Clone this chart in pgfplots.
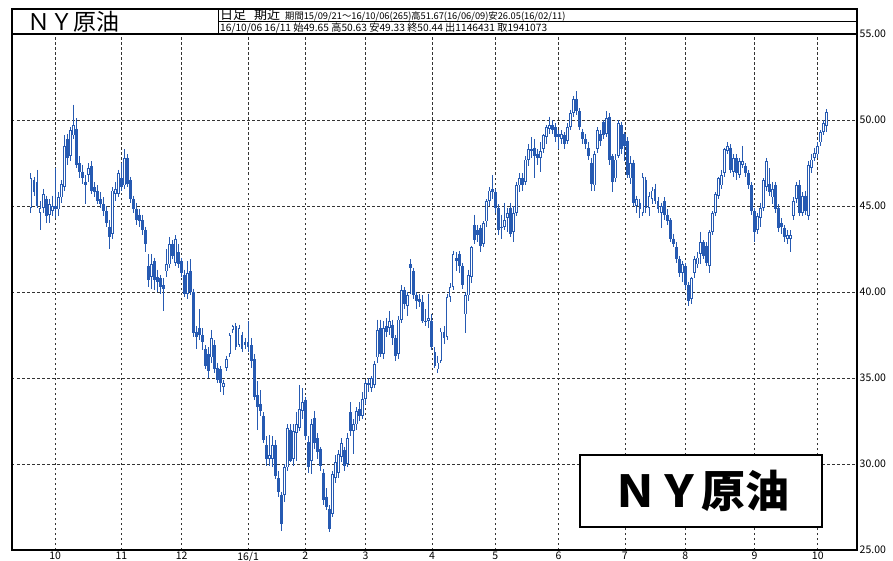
\documentclass[border=0pt]{standalone}
\usepackage{fontspec}
\setmainfont{Noto Sans CJK JP}
\newfontfamily\cjk{Noto Sans CJK JP}
\usepackage{pgfplots}
\usepackage{pgfplotstable}
\pgfplotsset{compat=1.18}
\definecolor{cblue}{RGB}{38,90,178}
\pgfplotstableread{
o h l c
44.9 46.9 44.6 46.6
46.5 46.7 45.6 45.8
46.4 47.1 44.9 45.0
44.6 45.3 43.6 44.9
44.9 46.0 44.6 45.7
45.4 45.6 44.0 44.4
44.5 45.4 44.0 45.1
44.7 45.6 44.4 45.0
45.0 47.2 44.3 44.8
44.8 45.8 44.4 45.5
45.5 46.5 45.2 46.3
46.1 49.1 45.9 48.5
48.9 49.2 47.4 47.8
47.9 49.6 47.6 49.4
49.1 50.9 48.9 49.7
49.5 50.1 47.2 47.4
47.5 47.9 46.6 47.0
47.0 47.4 46.3 46.6
46.4 46.8 45.1 46.2
46.8 47.5 46.4 47.2
47.3 47.6 45.7 45.9
46.1 46.4 45.5 45.8
45.9 46.2 45.1 45.3
45.4 45.8 44.9 45.1
45.1 45.5 44.4 44.7
44.7 45.0 43.8 44.0
43.8 44.2 42.5 43.2
43.4 46.1 43.1 45.9
45.7 46.4 45.3 46.0
45.7 47.1 45.5 46.9
46.6 47.5 45.9 46.1
46.2 48.3 46.0 47.8
47.8 48.0 46.1 46.3
46.5 46.7 45.2 45.4
45.4 45.6 44.6 44.8
44.8 45.2 43.9 44.2
44.5 44.8 43.8 44.1
44.2 44.5 43.3 43.6
43.6 43.8 42.3 42.8
41.5 42.2 40.3 40.7
40.9 42.2 40.2 41.6
41.8 42.0 40.1 40.7
40.9 41.3 40.0 40.6
40.8 41.0 39.9 40.3
40.4 40.8 38.9 40.2
41.2 42.5 40.9 41.6
41.6 43.2 41.4 42.8
42.8 43.0 41.9 42.1
41.7 43.3 41.5 43.1
42.3 42.8 41.4 41.6
41.8 42.0 40.9 41.1
41.0 41.3 39.7 39.9
39.9 41.8 39.6 41.1
41.2 41.9 39.8 40.0
40.0 40.2 37.4 37.6
37.7 38.0 36.7 37.4
37.9 39.0 37.2 37.5
37.5 37.9 36.6 37.1
36.7 36.9 35.5 35.7
36.4 36.8 35.0 35.4
36.2 37.8 35.9 37.3
36.9 37.2 35.3 35.5
35.6 35.9 34.7 34.9
35.5 35.7 34.2 34.7
34.5 34.9 34.0 34.7
35.6 36.3 35.4 36.1
36.4 37.6 36.2 37.5
37.8 38.1 37.6 38.0
38.0 38.2 36.6 36.8
36.9 38.1 36.8 37.9
37.5 37.7 36.5 36.7
37.1 37.3 36.7 36.9
37.1 38.3 36.5 36.8
36.9 37.3 35.6 36.0
36.1 36.4 33.7 33.9
34.0 34.8 32.0 33.3
33.5 34.3 32.8 33.1
32.8 33.0 31.2 31.4
31.1 31.6 29.9 30.3
30.3 31.7 29.9 30.5
30.3 31.6 29.8 31.1
31.1 31.4 29.1 29.3
29.2 29.6 28.1 28.4
28.2 28.4 26.1 26.5
28.2 30.0 27.8 29.8
29.8 32.3 29.6 32.1
32.0 32.3 30.1 30.2
30.3 32.3 29.9 31.9
31.8 33.0 30.2 32.3
32.1 34.6 31.9 33.2
33.1 34.4 32.6 33.6
33.7 33.9 31.4 31.6
31.3 31.6 29.5 29.8
30.2 32.6 29.4 32.3
32.7 33.1 30.9 31.2
31.5 31.8 30.3 30.7
30.9 31.0 29.6 29.9
29.5 29.7 27.6 27.9
28.1 28.6 27.3 27.5
27.4 27.6 26.05 26.2
27.1 29.6 26.9 29.4
29.2 30.5 28.9 30.1
29.5 30.8 29.2 30.6
30.4 31.5 30.1 31.2
30.8 31.0 29.6 29.9
30.0 31.8 29.8 31.5
33.0 33.6 31.6 31.9
31.9 32.6 30.6 32.3
32.3 33.3 32.0 33.1
33.2 33.6 32.5 32.8
32.8 34.2 32.6 33.8
33.8 34.9 33.5 34.7
34.6 35.0 34.2 34.7
34.4 35.1 34.2 35.0
34.6 36.0 34.4 35.8
36.2 38.4 35.9 37.8
37.9 38.4 36.2 36.4
36.4 38.3 36.1 37.9
38.0 38.5 37.4 37.7
37.9 38.9 37.5 38.3
38.1 38.4 36.9 37.3
37.3 37.5 36.0 36.3
36.4 38.6 36.1 38.4
38.4 40.4 38.2 40.1
40.1 40.3 39.0 39.3
39.2 40.0 38.6 39.8
41.6 41.9 39.9 41.4
41.2 41.4 39.6 39.8
39.8 40.0 39.0 39.5
39.6 39.9 39.1 39.4
39.4 39.8 38.2 38.3
38.3 39.0 38.0 38.3
38.3 39.9 37.9 38.5
38.3 38.7 36.6 36.8
36.5 36.8 35.6 35.7
35.5 36.3 35.3 35.9
36.0 37.9 35.9 37.7
37.7 38.0 37.0 37.3
37.4 39.9 37.2 39.7
39.7 40.5 39.4 40.3
40.3 42.4 40.1 42.2
42.0 42.3 41.2 41.8
42.2 42.4 41.1 41.5
41.5 41.7 40.2 40.4
38.7 40.0 37.6 39.8
39.8 41.3 39.5 41.0
40.9 42.7 40.5 42.6
43.9 44.5 42.8 43.0
43.6 43.9 42.9 43.3
43.7 43.9 42.3 42.7
42.8 44.1 42.6 44.0
44.1 45.4 43.8 45.3
45.3 46.1 45.0 45.9
46.0 46.8 45.4 45.8
45.8 46.0 44.6 44.9
44.9 45.1 43.3 43.6
43.8 44.5 43.1 43.7
43.8 45.2 43.6 44.2
44.3 44.9 43.5 44.6
44.9 45.2 43.2 43.4
43.5 45.0 42.9 44.6
44.6 46.4 44.4 46.2
46.2 46.9 45.8 46.6
46.6 46.9 45.9 46.2
46.4 47.9 46.2 47.7
47.7 48.6 47.3 48.3
48.3 49.0 47.8 48.2
48.4 48.9 46.6 47.9
48.0 48.3 47.4 47.8
47.8 48.7 47.0 48.2
48.3 49.2 48.1 49.1
49.0 49.7 48.6 49.6
49.5 50.2 49.2 49.7
49.7 50.0 49.2 49.4
49.6 49.8 48.7 49.0
49.2 49.4 48.3 49.0
48.9 49.4 48.6 49.2
49.1 49.3 48.3 48.6
48.8 49.8 48.6 49.6
49.6 50.6 49.4 50.4
50.4 51.4 50.2 51.2
51.2 51.67 50.3 50.5
50.5 50.7 49.4 49.6
49.3 49.5 48.6 48.9
48.9 49.2 48.3 48.6
48.4 48.7 47.7 47.9
47.5 47.8 45.9 46.3
46.2 48.2 45.9 48.0
48.3 49.6 48.1 49.4
49.2 49.4 48.5 48.8
49.9 50.0 48.9 49.1
49.2 50.5 49.0 50.1
50.2 50.4 47.4 47.7
47.9 48.0 45.8 46.4
46.6 48.0 46.4 47.7
47.9 50.0 47.8 49.8
49.7 49.9 48.0 48.3
49.2 49.3 47.6 48.5
48.8 49.0 46.6 46.8
46.6 47.9 46.3 47.5
47.5 47.7 45.0 45.2
45.0 45.6 44.6 45.4
45.2 45.4 44.3 44.8
44.6 46.9 44.4 46.7
46.5 46.7 44.6 44.9
44.9 45.8 44.4 45.6
45.4 46.1 45.1 45.9
46.0 46.3 45.1 45.3
45.3 45.5 44.6 44.8
44.6 45.2 43.7 45.0
45.3 45.5 44.2 44.5
44.5 44.8 43.9 44.1
44.2 44.3 42.9 43.1
43.1 43.4 42.6 42.8
42.6 42.9 41.7 41.9
41.9 42.1 40.9 41.1
41.1 41.8 40.6 41.6
41.5 41.7 40.2 40.4
40.4 40.6 39.2 39.5
39.6 40.9 39.3 40.8
41.1 42.1 40.8 41.9
41.6 42.3 41.4 42.0
42.2 43.5 41.6 42.9
42.9 43.0 41.9 42.1
42.7 42.9 41.5 41.7
41.5 43.6 41.1 43.5
43.5 44.7 43.3 44.6
44.6 45.8 44.4 45.7
45.6 46.7 45.4 46.6
46.2 47.1 46.0 46.8
46.9 48.4 46.7 48.3
48.2 48.7 48.0 48.5
48.4 48.6 46.9 47.1
47.0 48.0 46.7 47.8
47.8 48.0 46.5 46.9
46.8 47.8 46.6 47.6
47.4 48.5 47.2 47.6
47.3 47.5 46.7 46.9
46.9 47.1 46.0 46.2
46.2 46.4 44.5 44.7
44.7 44.9 42.9 43.5
43.6 44.6 43.4 44.4
44.3 45.2 43.8 44.9
44.9 46.6 44.7 46.5
46.1 47.8 45.9 47.6
46.3 47.2 45.6 45.8
45.5 46.4 45.1 46.0
46.2 46.4 44.6 44.8
44.9 45.1 43.5 43.7
44.0 44.3 43.4 43.8
43.7 43.9 42.9 43.2
43.1 43.6 42.8 43.3
43.1 43.6 42.3 43.3
44.4 45.5 44.2 45.3
45.4 46.4 45.2 46.2
46.2 46.5 44.4 44.6
44.6 45.8 44.4 45.6
45.6 45.9 44.5 44.7
44.4 47.6 44.2 47.4
47.2 48.0 46.9 47.7
47.8 48.4 47.6 48.1
48.0 48.7 47.8 48.5
48.7 49.4 48.5 49.3
49.3 50.0 49.1 49.8
49.65 50.63 49.33 50.44
}\data
\begin{document}
\begin{tikzpicture}
\begin{axis}[
  at={(12pt,-550pt)}, anchor=south west,
  scale only axis, width=845pt, height=516pt,
  xmin=-6.3, xmax=274, ymin=25, ymax=55,
  xtick={8,30,50,72,91,111,133,154,175,197,217,240,261},
  xticklabels={10,11,12,16/1,2,3,4,5,6,7,8,9,10},
  ytick={25,30,35,40,45,50,55},
  yticklabel pos=right,
  major tick length=0pt,
  grid=major,
  major grid style={draw=black!80, line width=0.7pt, dash pattern=on 2.5pt off 2.5pt},
  axis line style={line width=1.4pt, black},
  /pgf/number format/.cd, fixed, fixed zerofill, precision=2, assume math mode=true,
  /pgfplots/.cd,
  ticklabel style={font=\cjk\fontsize{10.5}{10.5}\selectfont},
  yticklabel style={anchor=west, inner sep=0pt, xshift=2.5pt},
  xticklabel style={anchor=north, inner sep=0pt, yshift=-2pt},
]
% wicks
\addplot[draw=cblue, line width=1.0pt, mark=none, forget plot,
  quiver={u=0, v={\thisrow{l}-\thisrow{h}}, every arrow/.append style={line width=1.0pt}}]
  table[x expr=\coordindex, y=h] {\data};
% bodies
\addplot[draw=cblue, line width=2.9pt, mark=none, forget plot,
  quiver={u=0, v={-max(abs(\thisrow{o}-\thisrow{c}),0.07)}, every arrow/.append style={line width=2.9pt}}]
  table[x expr=\coordindex, y expr={max(\thisrow{o},\thisrow{c})}] {\data};
% hollow interior of rising candles
\addplot[draw=white, line width=1.0pt, mark=none, forget plot,
  quiver={u=0, v={-max(\thisrow{c}-\thisrow{o}-0.1,0)}, every arrow/.append style={line width=1.0pt}}]
  table[x expr=\coordindex, y expr={\thisrow{c}-0.05}] {\data};
\end{axis}
% header
\draw[line width=1.4pt] (12pt,-34pt) -- (12pt,-9pt) -- (857pt,-9pt) -- (857pt,-34pt);
\draw[line width=0.8pt] (218pt,-9pt) -- (218pt,-34pt);
\draw[line width=0.8pt] (218pt,-21pt) -- (857pt,-21pt);
\node[anchor=west, inner sep=0pt, font=\cjk\fontsize{23}{23}\selectfont] at (27pt,-22pt) {ＮＹ原油};
\node[anchor=base west, inner sep=0pt] at (220pt,-19.6pt) {{\fontsize{13}{13}\selectfont 日足\hspace{8pt}期近}\hspace{5pt}{\fontsize{9.3}{9.3}\selectfont 期間15/09/21～16/10/06(265)高51.67(16/06/09)安26.05(16/02/11)}};
\node[anchor=base west, inner sep=0pt] at (220pt,-31.5pt) {\fontsize{10.2}{10.2}\selectfont 16/10/06 16/11 始49.65 高50.63 安49.33 終50.44 出1146431 取1941073};
% label box
\node[draw=black, line width=1.8pt, fill=white, minimum width=242pt, minimum height=72pt, inner sep=0pt, font=\cjk\bfseries\fontsize{44}{44}\selectfont] at (701pt,-491pt) {ＮＹ原油};
\pgfresetboundingbox
\useasboundingbox (0pt,-561pt) rectangle (893pt,0pt);
\end{tikzpicture}
\end{document}
